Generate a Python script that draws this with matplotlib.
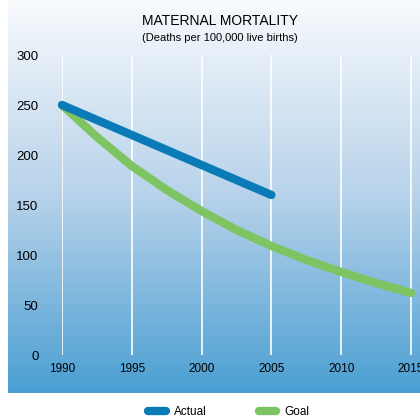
import numpy as np
import matplotlib
matplotlib.use('Agg')
import matplotlib.pyplot as plt
from matplotlib.colors import LinearSegmentedColormap

# Datos
anios_actual = [1990, 1995, 2000, 2005]
valores_actual = [250, 220, 190, 160]

anios_meta = [1990, 1992.5, 1995, 1997.5, 2000, 2002.5, 2005, 2007.5, 2010, 2012.5, 2015]
valores_meta = [250, 218, 189, 165, 144, 125, 109, 95, 83, 72, 62]

xticks = [1990, 1995, 2000, 2005, 2010, 2015]
yticks = [0, 50, 100, 150, 200, 250, 300]

azul = '#0a7bb6'
verde = '#7ec463'

plt.rcParams['font.family'] = ['Liberation Sans', 'DejaVu Sans']

fig = plt.figure(figsize=(4.2, 4.2), dpi=100)

# Fondo degradado
ax_bg = fig.add_axes([8/420, 27/420, 412/420, 393/420], zorder=0)
grad = np.linspace(0, 1, 256).reshape(-1, 1)
cmap = LinearSegmentedColormap.from_list('fondo', ['#f8fafd', '#b7d2ea', '#4a9fd2'])
ax_bg.imshow(grad, aspect='auto', cmap=cmap, extent=[0, 1, 0, 1], origin='upper')
ax_bg.axis('off')

# Eje principal
ax = fig.add_axes([62/420, 65/420, 358/420, 300/420], zorder=1)
ax.patch.set_alpha(0)
ax.set_xlim(1990, 1990 + 358 / (349 / 25))
ax.set_ylim(0, 300)

for x in xticks:
    ax.axvline(x, color='white', lw=1.2, zorder=1)

ax.plot(anios_actual, valores_actual, color=azul, lw=6, solid_capstyle='round',
        solid_joinstyle='round', clip_on=False, zorder=3, label='Actual')
ax.plot(anios_meta, valores_meta, color=verde, lw=6, solid_capstyle='round',
        solid_joinstyle='round', clip_on=False, zorder=2, label='Goal')

ax.set_xticks(xticks)
ax.set_yticks(yticks)
ax.tick_params(length=0)
ax.tick_params(axis='y', pad=17, labelsize=9.5)
ax.tick_params(axis='x', pad=6, labelsize=8.5)
for lab in ax.get_xticklabels():
    lab.set_family(['Liberation Sans Narrow', 'Liberation Sans', 'DejaVu Sans'])
for s in ax.spines.values():
    s.set_visible(False)

fig.text(220/420, 1 - 21/420, 'MATERNAL MORTALITY', ha='center', va='center', fontsize=10)
fig.text(220/420, 1 - 38/420, '(Deaths per 100,000 live births)', ha='center', va='center', fontsize=8)

leg = fig.legend(loc='center', bbox_to_anchor=(229/420, 1 - 412/420), ncol=2, frameon=False,
                 handlelength=1.5, columnspacing=4.35, handletextpad=0.7,
                 prop={'family': ['Liberation Sans Narrow', 'Liberation Sans', 'DejaVu Sans'], 'size': 8.5})

fig.savefig('out.png', dpi=100)
